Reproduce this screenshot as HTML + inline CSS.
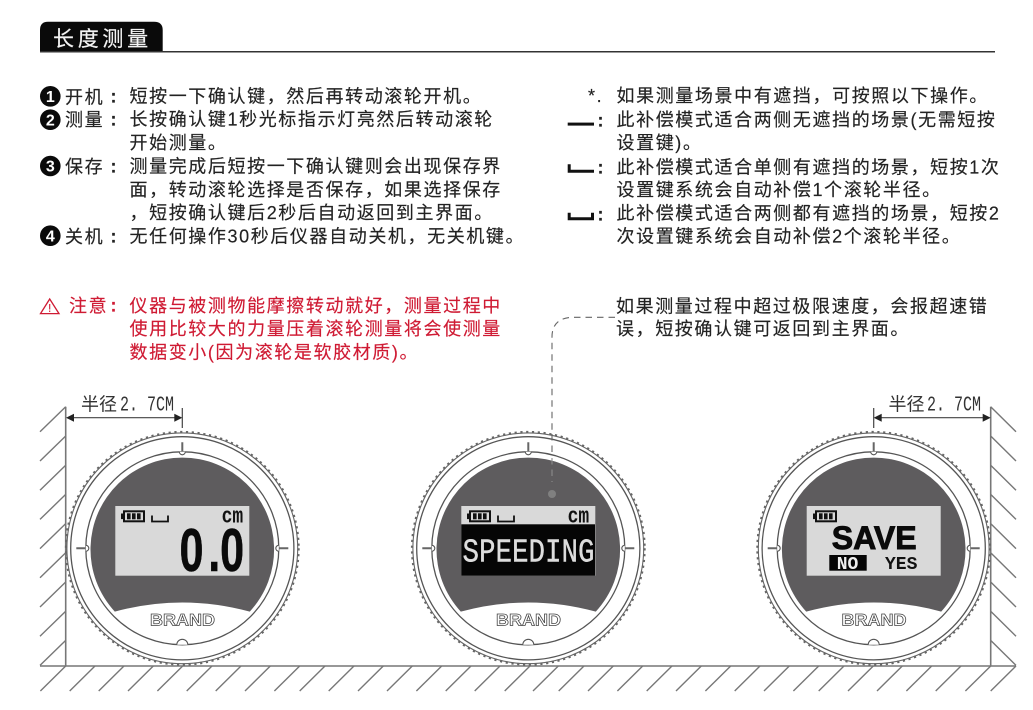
<!DOCTYPE html>
<html lang="zh">
<head>
<meta charset="utf-8">
<title>长度测量</title>
<style>
html,body{margin:0;padding:0;background:#fff;width:1033px;height:710px;overflow:hidden}
svg{display:block}
.t{font-family:"Liberation Sans","Noto Sans CJK SC",sans-serif;font-size:18px;letter-spacing:1.6px;fill:#222;stroke:#222;stroke-width:.15}
.r{fill:#cf1a33;stroke:#cf1a33}
.k{font-weight:700}
.c{font-family:"Liberation Sans",sans-serif;font-weight:700;font-size:16px;fill:#fff;text-anchor:middle}
.b{font-family:"Liberation Sans",sans-serif;font-weight:700;font-size:17px;fill:#fff;stroke:#444;stroke-width:.75}
.m{font-family:"Liberation Mono",monospace;font-weight:700;fill:#111}
.d{font-family:"Liberation Sans","Noto Sans CJK SC",sans-serif;font-size:18px;fill:#333}
.dm{font-family:"Liberation Mono",monospace;font-size:21px;fill:#333}
</style>
</head>
<body>
<svg width="1033" height="710" viewBox="0 0 1033 710" xmlns="http://www.w3.org/2000/svg">
<defs>
<g id="dev">
  <circle r="115.4" fill="#fff" stroke="#666" stroke-width="1.1"/>
  <circle r="116.2" fill="none" stroke="#666" stroke-width="2.4" stroke-dasharray="2.2 3.6"/>
  <circle r="111.6" fill="none" stroke="#555" stroke-width="1.3"/>
  <circle r="96.5" fill="#fff" stroke="#555" stroke-width="1.3"/>
  <path d="M-67.5 63.3A91.8 91.8 0 1 1 67.5 63.3Q0 45 -67.5 63.3Z" fill="#5e5c5e"/>
  <path d="M0 -106V-96M-106 0H-96M96 0H106" stroke="#666" stroke-width="2" fill="none"/>
  <path d="M-3 -96.5A3 3 0 0 0 3 -96.5M-96.5 -3A3 3 0 0 1 -96.5 3M96.5 -3A3 3 0 0 0 96.5 3M-5.5 96.5A5.5 5.5 0 0 1 5.5 96.5" fill="#fff" stroke="#555" stroke-width="1.1"/>
  <rect x="-67" y="-42.3" width="134" height="69.7" fill="#d9d9d9"/>
</g>
<g id="bat">
  <rect x="0" y="3.2" width="2.4" height="5.6" fill="#111"/>
  <rect x="3" y="1" width="20" height="10" fill="#d9d9d9" stroke="#111" stroke-width="2"/>
  <rect x="6" y="3" width="3.6" height="6" fill="#111"/>
  <rect x="11" y="3" width="3.6" height="6" fill="#111"/>
  <rect x="16" y="3" width="3.6" height="6" fill="#111"/>
</g>
<path id="brk" d="M1 0V6H17V0" fill="none" stroke="#111" stroke-width="1.8"/>
</defs>

<!-- header -->
<path d="M40 52V30Q40 21.7 48 21.7H154Q162.7 21.7 162.7 30V52Z" fill="#0a0a0a"/>
<rect x="40" y="51" width="955" height="1.5" fill="#333"/>
<text x="53" y="46" style="font-family:'Liberation Sans','Noto Sans CJK SC',sans-serif;font-size:21px;letter-spacing:3.7px;fill:#f4f4f4;stroke:#f4f4f4;stroke-width:.2">长度测量</text>

<!-- left column -->
<circle cx="50.3" cy="96.3" r="10.3" fill="#0a0a0a"/><text class="c" x="50.3" y="102">1</text>
<circle cx="50.3" cy="119.7" r="10.3" fill="#0a0a0a"/><text class="c" x="50.3" y="125.4">2</text>
<circle cx="50.3" cy="166" r="10.3" fill="#0a0a0a"/><text class="c" x="50.3" y="171.7">3</text>
<circle cx="50.3" cy="235.7" r="10.3" fill="#0a0a0a"/><text class="c" x="50.3" y="241.4">4</text>

<text class="t" x="65" y="103.5">开机</text><text class="t k" x="110.5" y="102.5">:</text>
<text class="t" x="65" y="126">测量</text><text class="t k" x="110.5" y="125.5">:</text>
<text class="t" x="65" y="173">保存</text><text class="t k" x="110.5" y="172.5">:</text>
<text class="t" x="65" y="243">关机</text><text class="t k" x="110.5" y="242.5">:</text>

<text class="t" x="129.5" y="102.3">短按一下确认键，然后再转动滚轮开机。</text>
<text class="t" x="129.5" y="125.5">长按确认键1秒光标指示灯亮然后转动滚轮</text>
<text class="t" x="129.5" y="149.1">开始测量。</text>
<text class="t" x="129.5" y="172.5">测量完成后短按一下确认键则会出现保存界</text>
<text class="t" x="129.5" y="195.8">面，转动滚轮选择是否保存，如果选择保存</text>
<text class="t" x="129.5" y="218.8">，短按确认键后2秒后自动返回到主界面。</text>
<text class="t" x="129.5" y="242.5">无任何操作30秒后仪器自动关机，无关机键。</text>

<!-- warning -->
<path d="M49.7 299L40.5 313.6H59Z" fill="none" stroke="#cf1a33" stroke-width="1.3"/>
<path d="M49.7 304V309.5M49.7 310.5V312" stroke="#cf1a33" stroke-width="1.1"/>
<text class="t r" x="69" y="311.8">注意</text><text class="t r k" x="110.5" y="311.3">:</text>
<text class="t r" x="129.5" y="311.8">仪器与被测物能摩擦转动就好，测量过程中</text>
<text class="t r" x="129.5" y="335.1">使用比较大的力量压着滚轮测量将会使测量</text>
<text class="t r" x="129.5" y="358.3">数据变小(因为滚轮是软胶材质)。</text>

<!-- right column -->
<text class="t" x="588" y="101.8" xml:space="preserve">*.</text>
<text class="t" x="616.5" y="101.8">如果测量场景中有遮挡，可按照以下操作。</text>
<rect x="567.7" y="122.6" width="26.3" height="3" fill="#111"/>
<text class="t k" x="597.5" y="126.5">:</text>
<text class="t" x="616.5" y="125.8">此补偿模式适合两侧无遮挡的场景(无需短按</text>
<text class="t" x="616.5" y="149.1">设置键)。</text>
<path d="M569.2 164.3V171.2H594" fill="none" stroke="#111" stroke-width="3"/>
<text class="t k" x="597.5" y="173.5">:</text>
<text class="t" x="616.5" y="173.3">此补偿模式适合单侧有遮挡的场景，短按1次</text>
<text class="t" x="616.5" y="195.8">设置键系统会自动补偿1个滚轮半径。</text>
<path d="M569.2 212.7V218.8H592.5V212.7" fill="none" stroke="#111" stroke-width="3"/>
<text class="t k" x="597.5" y="220.5">:</text>
<text class="t" x="616.5" y="219.3">此补偿模式适合两侧都有遮挡的场景，短按2</text>
<text class="t" x="616.5" y="242.3">次设置键系统会自动补偿2个滚轮半径。</text>
<text class="t" x="616" y="312.3">如果测量过程中超过极限速度，会报超速错</text>
<text class="t" x="616" y="335.1">误，短按确认键可返回到主界面。</text>

<!-- walls and hatching -->
<g stroke="#777" stroke-width="1.4" fill="none">
  <path d="M65.7 406.7V666M990.7 406.7V666M40 666H1016" stroke-width="1.6"/>
  <path d="M65.7 406.7l-25.7 25M65.7 436l-25.7 25M65.7 465.2l-25.7 25M65.7 494.4l-25.7 25M65.7 523.6l-25.7 25M65.7 552.8l-25.7 25M65.7 582l-25.7 25M65.7 611.2l-25.7 25M65.7 640.4l-25.7 25"/>
  <path d="M990.7 406.7l25.3 25M990.7 436l25.3 25M990.7 465.2l25.3 25M990.7 494.4l25.3 25M990.7 523.6l25.3 25M990.7 552.8l25.3 25M990.7 582l25.3 25M990.7 611.2l25.3 25M990.7 640.4l25.3 25"/>
  <path d="M65.7 666l-25.3 25M95 666l-25.3 25M124 666l-25.3 25M153.3 666l-25.3 25M182.7 666l-25.3 25M212 666l-25.3 25M241 666l-25.3 25M270.3 666l-25.3 25M299.7 666l-25.3 25M325 666l-25.3 25M354 666l-25.3 25M383.3 666l-25.3 25M412.3 666l-25.3 25M441.7 666l-25.3 25M471 666l-25.3 25M500 666l-25.3 25M530 666l-25.3 25M558.3 666l-25.3 25M584 666l-25.3 25M613.3 666l-25.3 25M642.7 666l-25.3 25M672 666l-25.3 25M701.3 666l-25.3 25M730.7 666l-25.3 25M760 666l-25.3 25M789.3 666l-25.3 25M818.7 666l-25.3 25M844 666l-25.3 25M873.3 666l-25.3 25M902.3 666l-25.3 25M931.7 666l-25.3 25M961 666l-25.3 25M990.7 666l-25.3 25M1016 666l-25.3 25"/>
</g>

<!-- dimensions -->
<g stroke="#444" stroke-width="1.2" fill="none">
  <path d="M70 417.7H178M182.3 408V428"/>
  <path d="M878 417.7H986.5M873.7 408V428"/>
</g>
<g fill="#222">
  <path d="M66 417.7L74 413.7V421.7Z"/><path d="M182.3 417.7L174.3 413.7V421.7Z"/>
  <path d="M873.7 417.7L881.7 413.7V421.7Z"/><path d="M990.7 417.7L982.7 413.7V421.7Z"/>
</g>
<text class="d" x="81" y="410.5">半径</text>
<text class="dm" x="120" y="410.5" textLength="54" lengthAdjust="spacingAndGlyphs" xml:space="preserve">2. 7CM</text>
<text class="d" x="888.5" y="410.5">半径</text>
<text class="dm" x="927" y="410.5" textLength="54" lengthAdjust="spacingAndGlyphs" xml:space="preserve">2. 7CM</text>

<!-- left device -->
<use href="#dev" x="182.3" y="548.3"/>
<use href="#bat" x="121" y="510.3"/>
<use href="#brk" x="151" y="515.5"/>
<text class="m" font-size="18" transform="translate(221.6,522.5) scale(1,1.25)">cm</text>
<g style="font-family:'Liberation Sans',sans-serif;font-weight:700;font-size:60px;fill:#0a0a0a;stroke:#0a0a0a;stroke-width:.5">
  <text transform="translate(179.5,571) scale(.72,1)" x="0 40 56.5">0.0</text>
</g>
<text class="b" x="150" y="625.6" textLength="65" lengthAdjust="spacingAndGlyphs">BRAND</text>

<!-- center device -->
<use href="#dev" x="528.3" y="548.3"/>
<rect x="461.3" y="524.3" width="133.7" height="51.4" fill="#050505"/>
<use href="#bat" x="467" y="510.3"/>
<use href="#brk" x="497" y="515.5"/>
<text class="m" font-size="18" transform="translate(567.6,522.5) scale(1,1.25)">cm</text>
<text x="462.5" y="561.7" textLength="132" lengthAdjust="spacingAndGlyphs" style="font-family:'Liberation Mono',monospace;font-size:33px;fill:#ddd;stroke:#ddd;stroke-width:.4">SPEEDING</text>
<text class="b" x="496" y="625.6" textLength="65" lengthAdjust="spacingAndGlyphs">BRAND</text>

<!-- dashed leader -->
<path d="M615 317.3H574Q552 317.3 552 337V431" fill="none" stroke="#666" stroke-width="1.1" stroke-dasharray="6.5 5"/>
<path d="M552 434V452" fill="none" stroke="#666" stroke-width="1.1" stroke-dasharray="6.5 5"/>
<path d="M552 458V482" fill="none" stroke="#8c8c8c" stroke-width="1.1" stroke-dasharray="6.5 5"/>
<circle cx="552" cy="494" r="4" fill="#808080"/>

<!-- right device -->
<use href="#dev" x="873.7" y="548.3"/>
<use href="#bat" x="813" y="510.3"/>
<text x="831.7" y="549" textLength="85" lengthAdjust="spacingAndGlyphs" style="font-family:'Liberation Sans',sans-serif;font-weight:700;font-size:32.5px;fill:#0a0a0a;stroke:#0a0a0a;stroke-width:.9">SAVE</text>
<rect x="829.3" y="555" width="37.4" height="15.7" fill="#050505"/>
<text class="m" x="836.7" y="569" font-size="18" style="fill:#eee">NO</text>
<text class="m" x="885" y="569" font-size="18">YES</text>
<text class="b" x="841.5" y="625.6" textLength="65" lengthAdjust="spacingAndGlyphs">BRAND</text>
</svg>
</body>
</html>
